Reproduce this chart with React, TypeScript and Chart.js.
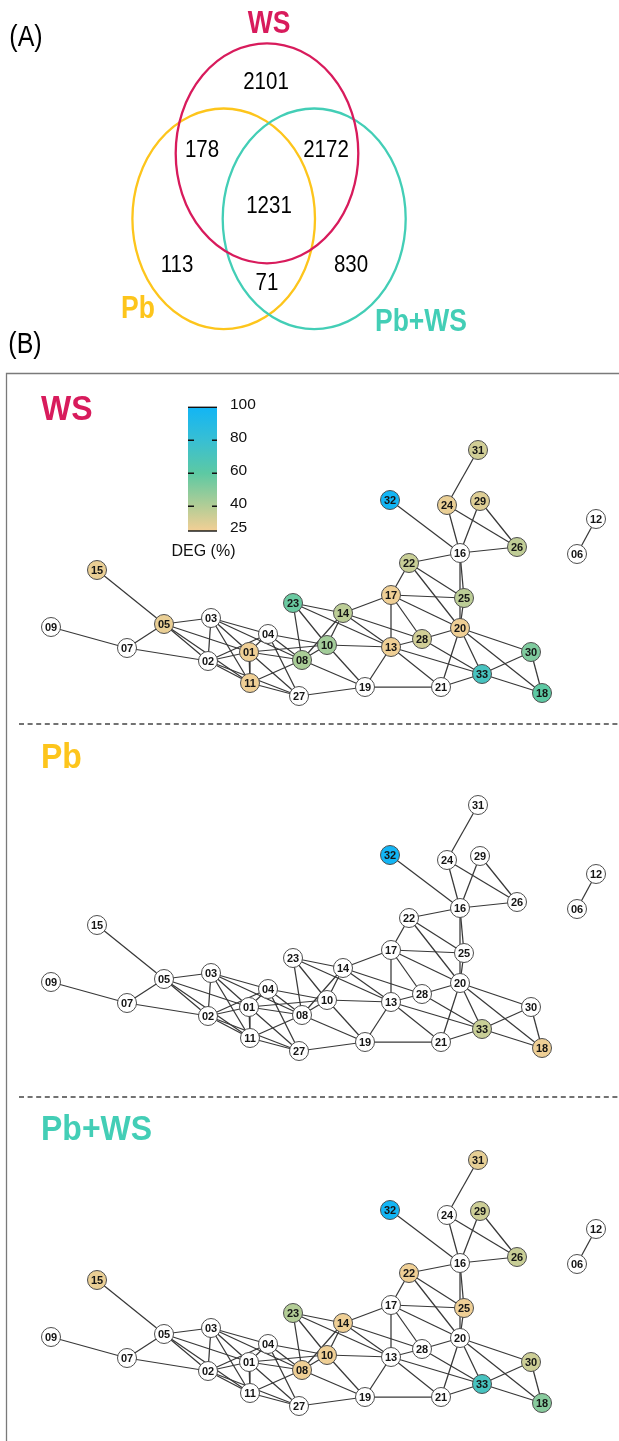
import { useEffect, useRef } from 'react';
import { Chart, registerables } from 'chart.js';
Chart.register(...registerables);

const FONT = '"Liberation Sans", Arial, Helvetica, sans-serif';

// ---------- (A) Venn diagram ----------
const setNames = ['Pb', 'Pb+WS', 'WS'];
const setColors = ['#fdc51c', '#43ceb6', '#d81b5c'];
const setCx = [223.7, 314.2, 267];
const setCy = [218.8, 218.8, 153.3];
const setRx = [91.3, 91.5, 91.3];
const setRy = [110.3, 110.3, 110];
const setLabelX = [138, 421, 269];
const setLabelY = [309, 322, 24];

const vennCounts = [2101, 178, 2172, 1231, 113, 71, 830];
const vennX = [266, 202, 326, 269, 177, 267, 351];
const vennY = [82, 150, 150, 206, 265, 283, 265];

// ---------- (B) co-expression networks ----------
const nodeIds = ['01', '02', '03', '04', '05', '06', '07', '08', '09', '10', '11', '12', '13', '14', '15', '16', '17', '18', '19', '20', '21', '22', '23', '24', '25', '26', '27', '28', '29', '30', '31', '32', '33'];
const nodeX = [249, 208, 211, 268, 164, 577, 127, 302, 51, 327, 250, 596, 391, 343, 97, 460, 391, 542, 365, 460, 441, 409, 293, 447, 464, 517, 299, 422, 480, 531, 478, 390, 482];
const nodeY = [652, 661, 618, 634, 624, 554, 648, 660, 627, 645, 683, 519, 647, 613, 570, 553, 595, 693, 687, 628, 687, 563, 603, 505, 598, 547, 696, 639, 501, 652, 450, 500, 674];

const edgeList: [string, string][] = [
  ['15', '05'], ['09', '07'], ['07', '05'], ['07', '02'],
  ['05', '03'], ['05', '01'], ['05', '02'], ['05', '11'],
  ['03', '02'], ['03', '04'], ['03', '08'], ['03', '01'], ['03', '11'],
  ['02', '01'], ['02', '04'], ['02', '11'], ['02', '27'],
  ['01', '04'], ['01', '08'], ['01', '10'], ['01', '11'], ['01', '27'],
  ['04', '08'], ['04', '10'], ['04', '27'],
  ['11', '08'], ['11', '27'], ['27', '19'],
  ['23', '08'], ['23', '10'], ['23', '14'], ['23', '13'],
  ['08', '10'], ['08', '14'], ['08', '19'],
  ['10', '14'], ['10', '13'], ['10', '19'],
  ['14', '17'], ['14', '13'], ['14', '28'],
  ['17', '22'], ['17', '25'], ['17', '20'], ['17', '28'], ['17', '13'],
  ['22', '16'], ['22', '25'], ['22', '20'],
  ['16', '32'], ['16', '24'], ['16', '29'], ['16', '26'], ['16', '25'], ['16', '20'],
  ['24', '31'], ['24', '26'], ['29', '26'],
  ['25', '20'],
  ['20', '28'], ['20', '21'], ['20', '33'], ['20', '30'], ['20', '18'],
  ['13', '28'], ['13', '33'], ['13', '21'], ['13', '19'],
  ['28', '33'], ['19', '21'], ['21', '33'],
  ['33', '30'], ['33', '18'], ['30', '18'],
  ['12', '06'],
];

const panelNames = ['WS', 'Pb', 'Pb+WS'];
const panelColors = ['#d81b5c', '#fdc51c', '#43ceb6'];
const panelShift = [0, 355, 710];

// DEG (%) per node, order 01..33 (null = below scale, white)
const wsDEG = [26, null, null, null, 27, null, null, 42, null, 44, 26, null, 26, 38, 27, null, 26, 60, null, 26, null, 35, 57, 27, 38, 37, null, 33, 30, 52, 33, 100, 72];
const pbDEG = [null, null, null, null, null, null, null, null, null, null, null, null, null, null, null, null, null, 26, null, null, null, null, null, null, null, null, null, null, null, null, null, 100, 35];
const pbwsDEG = [null, null, null, null, null, null, null, 26, null, 26, null, null, null, 26, 27, null, null, 50, null, null, null, 26, 40, null, 26, 35, null, null, 34, 34, 28, 100, 72];

// colour scale
const cbStops = [25, 40, 60, 80, 100];
const cbColors = ['#f3cf95', '#b3cd96', '#5dc9a3', '#38bfd3', '#12b5f5'];
const cbTicks = [25, 40, 60, 80, 100];
const cbTitle = 'DEG (%)';

function hexRgb(h: string) {
  const n = parseInt(h.slice(1), 16);
  return [(n >> 16) & 255, (n >> 8) & 255, n & 255];
}
function degColor(v: number | null) {
  if (v == null) return '#ffffff';
  const c = Math.max(cbStops[0], Math.min(cbStops[cbStops.length - 1], v));
  for (let i = 0; i < cbStops.length - 1; i++) {
    if (c <= cbStops[i + 1]) {
      const t = (c - cbStops[i]) / (cbStops[i + 1] - cbStops[i]);
      const a = hexRgb(cbColors[i]);
      const b = hexRgb(cbColors[i + 1]);
      const m = a.map((av, k) => Math.round(av + (b[k] - av) * t));
      return `rgb(${m[0]},${m[1]},${m[2]})`;
    }
  }
  return cbColors[cbColors.length - 1];
}

function drawText(ctx: CanvasRenderingContext2D, text: string, x: number, y: number, font: string, color: string, sy: number, align: CanvasTextAlign = 'center', baseline: CanvasTextBaseline = 'middle') {
  ctx.save();
  ctx.translate(x, y);
  ctx.scale(1, sy);
  ctx.font = font;
  ctx.fillStyle = color;
  ctx.textAlign = align;
  ctx.textBaseline = baseline;
  ctx.fillText(text, 0, 0);
  ctx.restore();
}

const vennPlugin = {
  id: 'vennDraw',
  beforeDatasetsDraw(chart: any) {
    const { ctx, scales: { x, y } } = chart;
    ctx.save();
    setNames.forEach((_, i) => {
      const cx = x.getPixelForValue(setCx[i]);
      const cy = y.getPixelForValue(setCy[i]);
      const rx = Math.abs(x.getPixelForValue(setCx[i] + setRx[i]) - cx);
      const ry = Math.abs(y.getPixelForValue(setCy[i] + setRy[i]) - cy);
      ctx.beginPath();
      ctx.ellipse(cx, cy, rx, ry, 0, 0, Math.PI * 2);
      ctx.strokeStyle = setColors[i];
      ctx.lineWidth = 2.3;
      ctx.stroke();
    });
    ctx.restore();
  },
  afterDatasetsDraw(chart: any) {
    const { ctx, scales: { x, y } } = chart;
    const meta = chart.getDatasetMeta(0);
    meta.data.forEach((el: any, i: number) => {
      drawText(ctx, String(vennCounts[i]), el.x, el.y, `20.5px ${FONT}`, '#000', 1.2);
    });
    setNames.forEach((n, i) => {
      drawText(ctx, n, x.getPixelForValue(setLabelX[i]), y.getPixelForValue(setLabelY[i]), `bold 26.5px ${FONT}`, setColors[i], 1.2);
    });
    drawText(ctx, '(A)', x.getPixelForValue(26), y.getPixelForValue(38.5), `25px ${FONT}`, '#000', 1.15);
    drawText(ctx, '(B)', x.getPixelForValue(25), y.getPixelForValue(345), `25px ${FONT}`, '#000', 1.15);
  },
};

const netPlugin = {
  id: 'netDraw',
  beforeDatasetsDraw(chart: any) {
    const { ctx, scales: { x, y } } = chart;
    ctx.save();
    // frame
    ctx.strokeStyle = '#7a7a7a';
    ctx.lineWidth = 1.3;
    ctx.beginPath();
    ctx.moveTo(x.getPixelForValue(640), y.getPixelForValue(373.5));
    ctx.lineTo(x.getPixelForValue(6.5), y.getPixelForValue(373.5));
    ctx.lineTo(x.getPixelForValue(6.5), y.getPixelForValue(1460));
    ctx.stroke();
    // dashed separators
    ctx.strokeStyle = '#444';
    ctx.lineWidth = 1.3;
    ctx.setLineDash([5, 3.6]);
    [724, 1097].forEach((yy) => {
      ctx.beginPath();
      ctx.moveTo(x.getPixelForValue(19), y.getPixelForValue(yy));
      ctx.lineTo(x.getPixelForValue(619), y.getPixelForValue(yy));
      ctx.stroke();
    });
    ctx.setLineDash([]);
    // panel titles
    const titleY = [420, 768, 1140];
    panelNames.forEach((n, i) => {
      drawText(ctx, n, x.getPixelForValue(41), y.getPixelForValue(titleY[i]), `bold 32px ${FONT}`, panelColors[i], 1.1, 'left', 'alphabetic');
    });
    ctx.restore();
  },
  afterDatasetsDraw(chart: any) {
    const { ctx } = chart;
    chart.data.datasets.forEach((ds: any, di: number) => {
      if (!ds.isNodes) return;
      const meta = chart.getDatasetMeta(di);
      meta.data.forEach((el: any, i: number) => {
        drawText(ctx, nodeIds[i], el.x, el.y + 0.5, `bold 11px ${FONT}`, '#151515', 1.05);
      });
    });
  },
};

const cbPlugin = {
  id: 'cbMarks',
  afterDatasetsDraw(chart: any) {
    const { ctx, chartArea: a, scales: { y } } = chart;
    ctx.save();
    ctx.strokeStyle = '#111';
    ctx.lineWidth = 1.4;
    cbTicks.forEach((v, i) => {
      const py = y.getPixelForValue(v);
      ctx.beginPath();
      if (i === 0 || i === cbTicks.length - 1) {
        ctx.moveTo(a.left, py);
        ctx.lineTo(a.right, py);
      } else {
        ctx.moveTo(a.left, py);
        ctx.lineTo(a.left + 6, py);
        ctx.moveTo(a.right - 5, py);
        ctx.lineTo(a.right, py);
      }
      ctx.stroke();
    });
    ctx.restore();
    drawText(ctx, cbTitle, (a.left + a.right) / 2 + 1, a.bottom + 21, `16px ${FONT}`, '#111', 1);
  },
};

export default function App() {
  const vennRef = useRef<HTMLCanvasElement>(null);
  const netRef = useRef<HTMLCanvasElement>(null);
  const cbRef = useRef<HTMLCanvasElement>(null);

  useEffect(() => {
    document.body.style.margin = '0';
    const hidden = { display: false };

    const venn = new Chart(vennRef.current!, {
      type: 'scatter',
      data: {
        datasets: [{
          data: vennCounts.map((_, i) => ({ x: vennX[i], y: vennY[i] })),
          pointRadius: 0,
        }],
      },
      options: {
        responsive: false,
        animation: false,
        events: [],
        layout: { padding: 0, autoPadding: false },
        plugins: { legend: hidden, tooltip: { enabled: false } },
        scales: {
          x: { type: 'linear', min: 0, max: 619, display: false },
          y: { type: 'linear', min: 0, max: 370, reverse: true, display: false },
        },
      } as any,
      plugins: [vennPlugin],
    });

    const degs = [wsDEG, pbDEG, pbwsDEG];
    const idx = (id: string) => nodeIds.indexOf(id);
    const datasets: any[] = [];
    panelNames.forEach((name, pi) => {
      datasets.push({
        label: name,
        isNodes: true,
        data: nodeIds.map((_, i) => ({ x: nodeX[i], y: nodeY[i] + panelShift[pi] })),
        pointRadius: 9.5,
        pointBackgroundColor: degs[pi].map((v) => degColor(v)),
        pointBorderColor: '#4e4e4e',
        pointBorderWidth: 1,
        showLine: false,
        order: 0,
      });
    });
    panelNames.forEach((_, pi) => {
      edgeList.forEach(([a, b]) => {
        const ia = idx(a);
        const ib = idx(b);
        datasets.push({
          data: [
            { x: nodeX[ia], y: nodeY[ia] + panelShift[pi] },
            { x: nodeX[ib], y: nodeY[ib] + panelShift[pi] },
          ],
          showLine: true,
          borderColor: '#383838',
          borderWidth: 1.25,
          pointRadius: 0,
          order: 1,
        });
      });
    });

    const net = new Chart(netRef.current!, {
      type: 'scatter',
      data: { datasets },
      options: {
        responsive: false,
        animation: false,
        events: [],
        layout: { padding: 0, autoPadding: false },
        plugins: { legend: hidden, tooltip: { enabled: false } },
        scales: {
          x: { type: 'linear', min: 0, max: 619, display: false },
          y: { type: 'linear', min: 370, max: 1441, reverse: true, display: false },
        },
      } as any,
      plugins: [netPlugin],
    });

    const cb = new Chart(cbRef.current!, {
      type: 'bar',
      data: {
        labels: ['DEG'],
        datasets: [{
          data: [[cbStops[0], cbStops[cbStops.length - 1]]] as any,
          barPercentage: 1,
          categoryPercentage: 1,
          borderWidth: 0,
          backgroundColor: (c: any) => {
            const ch = c.chart;
            const ys = ch.scales.y;
            if (!ys || !ch.chartArea) return cbColors[0];
            const y0 = ys.getPixelForValue(cbStops[0]);
            const y1 = ys.getPixelForValue(cbStops[cbStops.length - 1]);
            const g = ch.ctx.createLinearGradient(0, y0, 0, y1);
            cbStops.forEach((s, i) => g.addColorStop((s - cbStops[0]) / (cbStops[cbStops.length - 1] - cbStops[0]), cbColors[i]));
            return g;
          },
        }],
      },
      options: {
        responsive: false,
        animation: false,
        events: [],
        layout: { padding: { left: 28, top: 20, right: 0, bottom: 35 }, autoPadding: false },
        plugins: { legend: hidden, tooltip: { enabled: false } },
        scales: {
          x: { display: false },
          y: {
            position: 'right',
            min: cbStops[0],
            max: cbStops[cbStops.length - 1],
            grid: { display: false, drawTicks: false },
            border: { display: false },
            afterBuildTicks: (s: any) => { s.ticks = cbTicks.map((v) => ({ value: v })); },
            ticks: { padding: 13, labelOffset: -3, color: '#111', font: { family: FONT, size: 15.5 } },
            afterFit: (s: any) => { s.width = 53; },
          },
        },
      } as any,
      plugins: [cbPlugin],
    });

    return () => { venn.destroy(); net.destroy(); cb.destroy(); };
  }, []);

  return (
    <div style={{ position: 'relative', width: 619, height: 1441, overflow: 'hidden', background: '#fff' }}>
      <canvas ref={vennRef} width={619} height={370} style={{ position: 'absolute', left: 0, top: 0, width: 619, height: 370 }} />
      <canvas ref={netRef} width={619} height={1071} style={{ position: 'absolute', left: 0, top: 370, width: 619, height: 1071 }} />
      <canvas ref={cbRef} width={110} height={181} style={{ position: 'absolute', left: 160, top: 385, width: 110, height: 181 }} />
    </div>
  );
}
